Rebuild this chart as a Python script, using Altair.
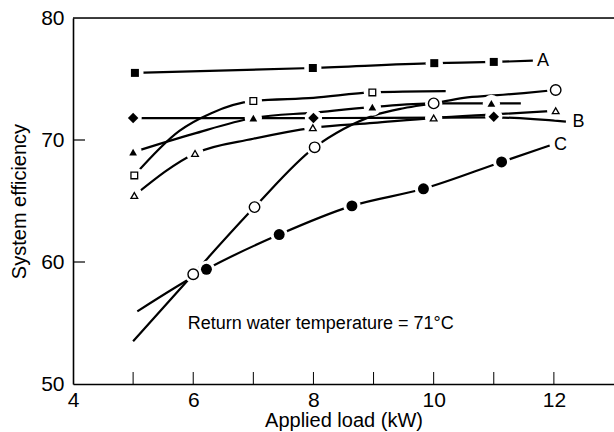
import altair as alt
import pandas as pd

# ---- markers ----
sqA_x = [5.03, 7.99, 10.01, 11.0]
sqA_y = [75.5, 75.9, 76.3, 76.4]

diaB_x = [5.0, 8.0, 11.0]
diaB_y = [71.8, 71.8, 71.9]

dotC_x = [6.22, 7.43, 8.64, 9.83, 11.13]
dotC_y = [59.4, 62.25, 64.6, 66.0, 68.2]

ocirc_x = [6.0, 7.02, 8.02, 10.0, 12.03]
ocirc_y = [59.0, 64.5, 69.4, 73.0, 74.1]

osq_x = [5.02, 7.0, 8.98]
osq_y = [67.1, 73.2, 73.9]

ftri_x = [5.0, 7.0, 8.98, 10.96]
ftri_y = [69.0, 71.8, 72.7, 73.0]

otri_x = [5.02, 6.03, 7.99, 10.0, 12.03]
otri_y = [65.45, 68.9, 71.0, 71.8, 72.4]

# ---- curve paths ----
lineA_x = [5.03, 7.99, 10.01, 11.0, 11.65]
lineA_y = [75.5, 75.9, 76.3, 76.4, 76.5]

lineB_x = [5.0, 8.0, 11.0, 12.2]
lineB_y = [71.8, 71.8, 71.85, 71.5]

lineC_x = [5.07, 6.22, 7.43, 8.64, 9.83, 11.13, 11.93]
lineC_y = [55.95, 59.4, 62.25, 64.6, 66.0, 68.2, 69.55]

lineOC_x = [5.0, 6.0, 7.02, 8.02, 8.5, 9.0, 9.5, 10.0, 10.5, 11.0, 11.5, 12.03]
lineOC_y = [53.5, 59.0, 64.5, 69.4, 70.9, 72.0, 72.6, 73.0, 73.45, 73.65, 73.85, 74.1]

lineOS_x = [5.02, 5.77, 6.3, 7.0, 8.0, 8.98, 10.2]
lineOS_y = [67.1, 70.75, 72.2, 73.2, 73.45, 73.9, 74.0]

lineFT_x = [5.0, 6.0, 7.0, 8.0, 8.98, 10.0, 10.96, 11.45]
lineFT_y = [69.0, 70.5, 71.8, 72.25, 72.7, 73.0, 73.0, 73.0]

lineOT_x = [5.02, 6.03, 7.0, 7.99, 9.0, 10.0, 11.0, 12.03]
lineOT_y = [65.45, 68.9, 70.1, 71.0, 71.4, 71.8, 72.1, 72.4]

x_tick_labels = [4, 6, 8, 10, 12]
x_minor_ticks = [5, 6, 7, 8, 9, 10, 11, 12]
y_tick_labels = [50, 60, 70, 80]
y_inner_ticks = [60, 70]

curve_labels = ["A", "B", "C"]
curve_label_x = [11.72, 12.31, 12.0]
curve_label_y = [76.5, 71.5, 69.55]

note = "Return water temperature = 71°C"

FONT = "Liberation Sans"
W, H = 541, 366

xs = alt.Scale(domain=[4, 13], nice=False, zero=False)
ys = alt.Scale(domain=[50, 80], nice=False, zero=False)

x_axis = alt.Axis(values=x_tick_labels, tickSize=0, grid=False, domainColor="black",
                  domainWidth=1.6, labelFont=FONT, labelFontSize=21, labelColor="black",
                  labelPadding=5, titleFont=FONT, titleFontSize=20, titleFontWeight="normal",
                  titleColor="black", titlePadding=0, labelFlush=False)
y_axis = alt.Axis(values=y_tick_labels, tickSize=0, grid=False, domainColor="black",
                  domainWidth=1.6, labelFont=FONT, labelFontSize=21, labelColor="black",
                  labelPadding=9, titleFont=FONT, titleFontSize=20, titleFontWeight="normal",
                  titleColor="black", titlePadding=11, labelFlush=False)


def X(field="x"):
    return alt.X(f"{field}:Q", scale=xs, axis=x_axis, title="Applied load (kW)")


def Y(field="y"):
    return alt.Y(f"{field}:Q", scale=ys, axis=y_axis, title="System efficiency")


# lines table
rows = []
for name, lx, ly in [("A", lineA_x, lineA_y), ("B", lineB_x, lineB_y), ("C", lineC_x, lineC_y),
                     ("OC", lineOC_x, lineOC_y), ("OS", lineOS_x, lineOS_y),
                     ("FT", lineFT_x, lineFT_y), ("OT", lineOT_x, lineOT_y)]:
    for i, (a, b) in enumerate(zip(lx, ly)):
        rows.append({"s": name, "x": a, "y": b, "o": i})
lines_df = pd.DataFrame(rows)


def pts(xl, yl):
    return pd.DataFrame({"x": xl, "y": yl})


all_pts = pd.concat([pts(sqA_x, sqA_y), pts(diaB_x, diaB_y), pts(dotC_x, dotC_y),
                     pts(ocirc_x, ocirc_y), pts(osq_x, osq_y), pts(ftri_x, ftri_y),
                     pts(otri_x, otri_y)], ignore_index=True)

lines = alt.Chart(lines_df).mark_line(color="black", strokeWidth=2.2, interpolate="monotone").encode(
    x=X(), y=Y(), detail="s:N", order="o:Q")

halo = alt.Chart(all_pts).mark_point(shape="circle", filled=True, color="white", opacity=1, size=300).encode(
    x=X(), y=Y())


def marker(xl, yl, shape, filled, size, sw=1.3):
    if filled:
        m = alt.Chart(pts(xl, yl)).mark_point(shape=shape, filled=True, color="black", opacity=1, size=size)
    else:
        m = alt.Chart(pts(xl, yl)).mark_point(shape=shape, filled=False, fill="white", fillOpacity=1,
                                              stroke="black", strokeWidth=sw, opacity=1, size=size)
    return m.encode(x=X(), y=Y())


markers = [
    marker(sqA_x, sqA_y, "square", True, 64),
    marker(diaB_x, diaB_y, "diamond", True, 110),
    marker(dotC_x, dotC_y, "circle", True, 120),
    marker(ocirc_x, ocirc_y, "circle", False, 110, 1.4),
    marker(osq_x, osq_y, "square", False, 45),
    marker(ftri_x, ftri_y, "triangle-up", True, 60),
    marker(otri_x, otri_y, "triangle-up", False, 45),
]

top_border = alt.Chart(pd.DataFrame({"y": [80]})).mark_rule(color="black", strokeWidth=1.6).encode(
    y=Y(), x=alt.value(0), x2=alt.value(W))

xt = alt.Chart(pd.DataFrame({"x": x_minor_ticks})).mark_rule(color="black", strokeWidth=1).encode(
    x=X(), y=alt.value(H), y2=alt.value(H - 12))
yt = alt.Chart(pd.DataFrame({"y": y_inner_ticks})).mark_rule(color="black", strokeWidth=1.2).encode(
    y=Y(), x=alt.value(0), x2=alt.value(12))

lab = alt.Chart(pd.DataFrame({"t": curve_labels, "x": curve_label_x, "y": curve_label_y})).mark_text(
    align="left", baseline="middle", font=FONT, fontSize=18, color="black").encode(
    x=X(), y=Y(), text="t:N")

ann = alt.Chart(pd.DataFrame({"t": [note], "x": [5.91], "y": [54.9]})).mark_text(
    align="left", baseline="middle", font=FONT, fontSize=18, color="black").encode(
    x=X(), y=Y(), text="t:N")

chart = alt.layer(lines, halo, *markers, top_border, xt, yt, lab, ann).properties(
    width=W, height=H,
    autosize=alt.AutoSizeParams(type="none"),
    padding={"left": 73, "top": 18, "right": 0, "bottom": 48},
).configure_view(stroke=None).configure(background="white")

chart.save("out.html", embed_options={"renderer": "svg", "actions": False})
